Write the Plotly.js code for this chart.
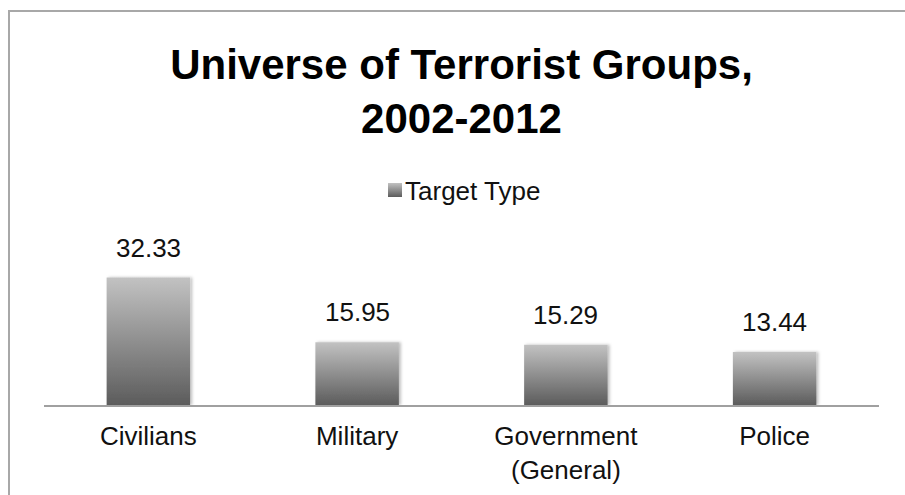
<!DOCTYPE html>
<html>
<head>
<meta charset="utf-8">
<script src="https://cdn.plot.ly/plotly-3.0.1.min.js"></script>
<style>
  html, body { margin: 0; padding: 0; background: #fff; }
  #wrap { position: relative; width: 905px; height: 495px; }
  #chart { width: 905px; height: 495px; }
  #frame { position: absolute; left: 8px; top: 10px; width: 897px; height: 485px;
           border-top: 2px solid #a8a8a8; border-left: 2px solid #a8a8a8; pointer-events: none; box-sizing: border-box; }
</style>
</head>
<body>
<div id="wrap">
  <div id="chart"></div>
  <div id="frame"></div>
</div>
<script>
const categories = ["Civilians", "Military", "Government<br>(General)", "Police"];
const values = [32.33, 15.95, 15.29, 13.44];
const seriesName = "Target Type";
const titleText = "Universe of Terrorist Groups,<br>2002-2012";

const FONT = "Liberation Sans, Arial, Helvetica, sans-serif";

const trace = {
  type: "bar",
  x: categories,
  y: values,
  name: seriesName,
  marker: { color: "#8e8e8e", line: { width: 0 } },
  showlegend: true,
  hoverinfo: "none"
};

const annotations = values.map((v, i) => ({
  x: categories[i],
  y: v,
  xref: "x",
  yref: "y",
  text: v.toFixed(2),
  showarrow: false,
  yanchor: "bottom",
  yshift: 13,
  font: { family: FONT, size: 26, color: "#111" }
}));

const layout = {
  width: 905,
  height: 495,
  margin: { l: 44, r: 26, t: 215, b: 90 },
  paper_bgcolor: "#fff",
  plot_bgcolor: "#fff",
  font: { family: FONT, color: "#111" },
  title: {
    text: titleText,
    font: { family: FONT, size: 42, color: "#000", weight: "bold" },
    x: 0.5,
    xref: "paper",
    xanchor: "center",
    y: 0.841,
    yref: "container",
    yanchor: "top"
  },
  bargap: 0.6,
  xaxis: {
    type: "category",
    showline: true,
    linecolor: "#a0a0a0",
    linewidth: 2,
    showgrid: false,
    zeroline: false,
    ticks: "",
    tickfont: { family: FONT, size: 26, color: "#111" },
    ticklabelstandoff: 7,
    fixedrange: true
  },
  yaxis: {
    range: [0, 48.2],
    visible: false,
    showgrid: false,
    zeroline: false,
    fixedrange: true
  },
  showlegend: true,
  legend: {
    orientation: "h",
    x: 0.5048,
    xanchor: "center",
    xref: "paper",
    y: 0.616,
    yref: "container",
    yanchor: "middle",
    font: { family: FONT, size: 26, color: "#111" },
    bgcolor: "rgba(0,0,0,0)"
  },
  annotations: annotations
};

Plotly.newPlot("chart", [trace], layout, { displayModeBar: false, staticPlot: true }).then(gd => {
  const svg = gd.querySelector("svg.main-svg");
  const ns = "http://www.w3.org/2000/svg";
  const defs = document.createElementNS(ns, "defs");
  defs.innerHTML =
    '<linearGradient id="barGrad" x1="0" y1="0" x2="0" y2="1">' +
    '<stop offset="0" stop-color="#c2c2c2"/>' +
    '<stop offset="1" stop-color="#5c5c5c"/></linearGradient>' +
    '<filter id="barShadow" x="-20%" y="-20%" width="140%" height="140%">' +
    '<feDropShadow dx="2" dy="0" stdDeviation="1.5" flood-color="#000" flood-opacity="0.25"/></filter>';
  svg.insertBefore(defs, svg.firstChild);
  gd.querySelectorAll(".trace.bars .point path").forEach(p => {
    p.style.setProperty("fill", "url(#barGrad)");
    p.setAttribute("filter", "url(#barShadow)");
  });
  gd.querySelectorAll(".legendpoints path").forEach(p => {
    p.style.setProperty("fill", "url(#barGrad)");
    p.setAttribute("d", "M7,7H-7V-7H7Z");
  });
  gd.querySelectorAll(".legendtext").forEach(t => {
    t.setAttribute("x", "30");
    t.querySelectorAll("tspan").forEach(s => { if (s.getAttribute("x")) s.setAttribute("x", "30"); });
  });
});
</script>
</body>
</html>
